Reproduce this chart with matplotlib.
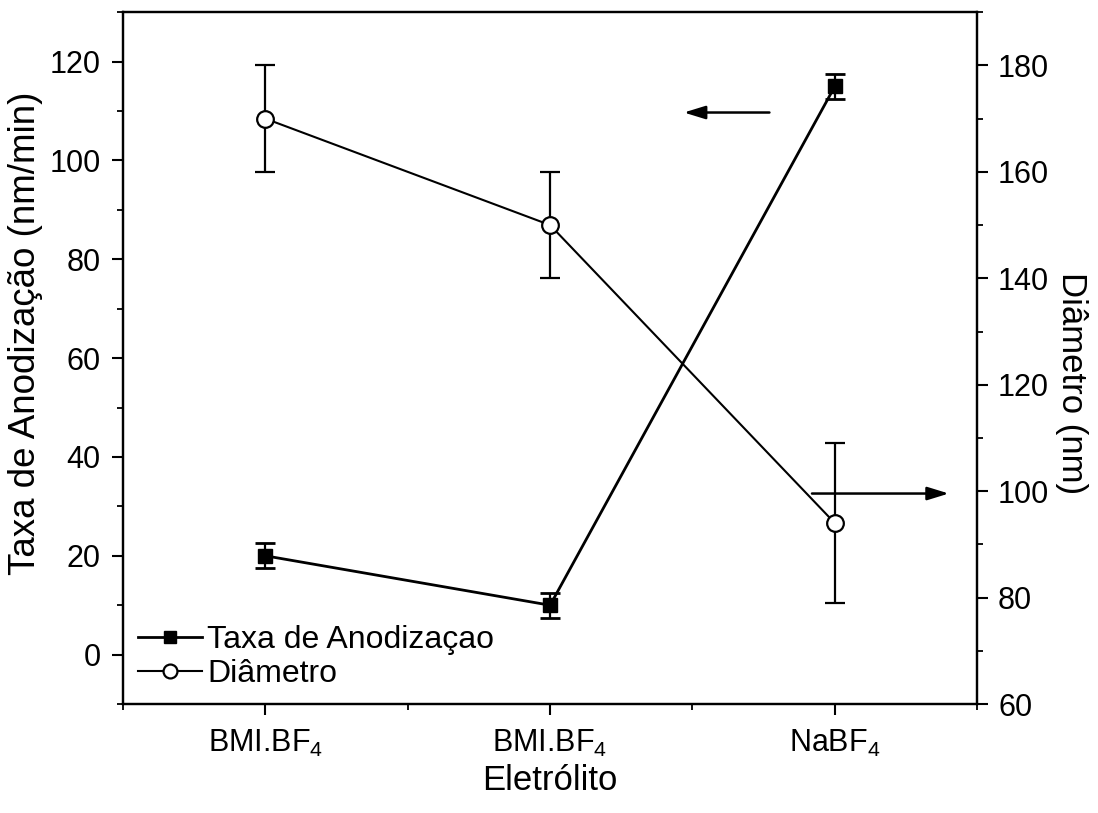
import numpy as np
import matplotlib
matplotlib.use('Agg')
import matplotlib.pyplot as plt
from matplotlib.ticker import MultipleLocator, FixedLocator
from matplotlib.lines import Line2D

plt.rcParams['font.family'] = ['Liberation Sans', 'DejaVu Sans']
plt.rcParams['mathtext.fontset'] = 'custom'
plt.rcParams['mathtext.rm'] = 'Liberation Sans'

# ---- data ----
categories = ['BMI.BF$_4$', 'BMI.BF$_4$', 'NaBF$_4$']
taxa = [20, 10, 115]          # nm/min, left axis
taxa_err = [2.5, 2.5, 2.5]
diametro = [170, 150, 94]     # nm, right axis
diametro_err = [10, 10, 15]

x = np.arange(1, len(categories) + 1)

fig = plt.figure(figsize=(10.98, 8.13), dpi=100)
ax = fig.add_axes([0.112, 0.134, 0.778, 0.851])
ax2 = ax.twinx()

# --- Taxa de Anodização (left) ---
ax.errorbar(x, taxa, yerr=taxa_err, color='black', lw=2, marker='s', ms=10,
            mfc='black', mec='black', capsize=7, capthick=2, elinewidth=1.6, zorder=3)

# --- Diâmetro (right) ---
ax2.errorbar(x, diametro, yerr=diametro_err, color='black', lw=1.5, marker='o', ms=12,
             mfc='white', mec='black', mew=1.6, capsize=7, capthick=2, elinewidth=1.6, zorder=3)

ax.set_xlim(0.5, 3.5)
ax.set_ylim(-10, 130)
ax2.set_ylim(60, 190)

ax.xaxis.set_major_locator(FixedLocator(x))
ax.xaxis.set_minor_locator(FixedLocator([0.5, 1.5, 2.5, 3.5]))
ax.set_xticklabels(categories)
ax.yaxis.set_major_locator(MultipleLocator(20))
ax.yaxis.set_minor_locator(MultipleLocator(10))
ax2.yaxis.set_major_locator(MultipleLocator(20))
ax2.yaxis.set_minor_locator(MultipleLocator(10))

for a in (ax, ax2):
    a.tick_params(which='major', direction='out', length=8, width=1.5, labelsize=22)
    a.tick_params(which='minor', direction='out', length=4, width=1.3)
    for s in a.spines.values():
        s.set_linewidth(1.6)
ax.tick_params(axis='x', which='major', pad=9, labelsize=22)
ax.tick_params(axis='y', which='major', pad=8)
ax2.tick_params(axis='y', which='major', pad=7)

ax.set_xlabel('Eletrólito', fontsize=25, labelpad=4)
ax.set_ylabel('Taxa de Anodização (nm/min)', fontsize=26.5)
ax.yaxis.set_label_coords(-0.094, 0.536)
ax2.set_ylabel('Diâmetro (nm)', fontsize=25, rotation=-90)
ax2.yaxis.set_label_coords(1.13, 0.464)

# arrows pointing to each axis
arrow_kw = dict(arrowstyle='-|>,head_length=1.3,head_width=0.4', color='black', lw=1.8)
ax.annotate('', xy=(2.46, 109.7), xytext=(2.78, 109.7), arrowprops=arrow_kw)
ax.annotate('', xy=(3.41, 32.6), xytext=(2.91, 32.6), arrowprops=arrow_kw)

handles = [
    Line2D([0], [0], color='black', lw=2, marker='s', ms=9, mfc='black', label='Taxa de Anodizaçao'),
    Line2D([0], [0], color='black', lw=1.5, marker='o', ms=10, mfc='white', mew=1.6, label='Diâmetro'),
]
ax.legend(handles=handles, loc='lower left', bbox_to_anchor=(-0.012, -0.015), frameon=False,
          fontsize=23, handlelength=2.0, handletextpad=0.15, labelspacing=0.12, borderpad=0.3)

fig.savefig('out.png', dpi=100)
